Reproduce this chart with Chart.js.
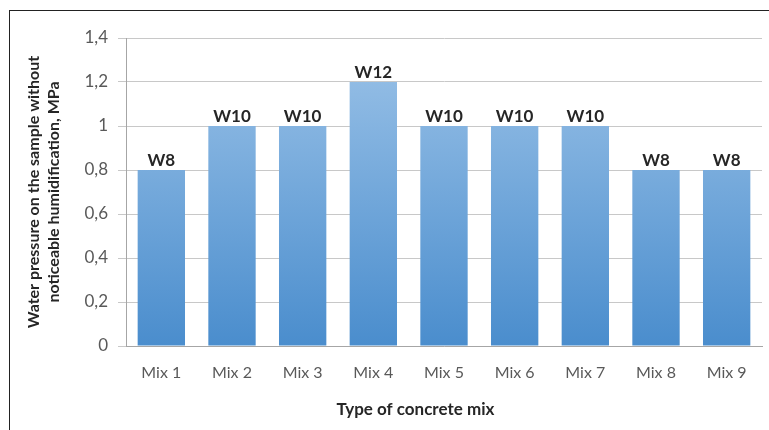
<!DOCTYPE html>
<html>
<head>
<meta charset="utf-8">
<script src="https://cdn.jsdelivr.net/npm/chart.js@4"></script>
<style>
  html, body { margin: 0; padding: 0; background: #fff; }
  #wrap { position: relative; width: 769px; height: 430px; overflow: hidden; }
  #frame { position: absolute; left: 9px; top: 10px; width: 900px; height: 600px;
           border-top: 1px solid #222; border-left: 1px solid #222; }
  canvas { position: absolute; left: 0; top: 0; }
</style>
</head>
<body>
<div id="wrap">
  <div id="frame"></div>
  <canvas id="chart" width="769" height="430"></canvas>
</div>
<script>
const mixes = ['Mix 1', 'Mix 2', 'Mix 3', 'Mix 4', 'Mix 5', 'Mix 6', 'Mix 7', 'Mix 8', 'Mix 9'];
const pressure = [0.8, 1, 1, 1.2, 1, 1, 1, 0.8, 0.8];
const waterClass = ['W8', 'W10', 'W10', 'W12', 'W10', 'W10', 'W10', 'W8', 'W8'];
const yTickLabels = ['0', '0,2', '0,4', '0,6', '0,8', '1', '1,2', '1,4'];

const FONT = 'Lato, "Open Sans", sans-serif';

// labels W8 / W10 / W12 au-dessus des barres
const barLabels = {
  id: 'barLabels',
  afterDatasetsDraw(chart) {
    const ctx = chart.ctx;
    const meta = chart.getDatasetMeta(0);
    ctx.save();
    ctx.font = 'bold 17px ' + FONT;
    ctx.fillStyle = '#262626';
    ctx.textAlign = 'center';
    ctx.textBaseline = 'bottom';
    meta.data.forEach((bar, i) => {
      ctx.fillText(waterClass[i], bar.x, bar.y - 1);
    });
    ctx.restore();
  }
};

// titre de l'axe x (décalé à gauche comme dans l'original)
const xTitle = {
  id: 'xTitle',
  afterDraw(chart) {
    const ctx = chart.ctx;
    const area = chart.chartArea;
    ctx.save();
    ctx.font = 'bold 17px ' + FONT;
    ctx.fillStyle = '#262626';
    ctx.textAlign = 'center';
    ctx.textBaseline = 'middle';
    ctx.fillText('Type of concrete mix', area.left + area.width * 0.455, 410);
    ctx.restore();
  }
};

new Chart(document.getElementById('chart'), {
  type: 'bar',
  data: {
    labels: mixes,
    datasets: [{
      data: pressure,
      backgroundColor(context) {
        const area = context.chart.chartArea;
        if (!area) return '#6aa3da';
        const g = context.chart.ctx.createLinearGradient(0, area.top, 0, area.bottom);
        g.addColorStop(0, '#9cc3e8');
        g.addColorStop(1, '#4a8dcd');
        return g;
      },
      borderWidth: 0,
      categoryPercentage: 1,
      barPercentage: 0.67
    }]
  },
  options: {
    responsive: false,
    animation: false,
    layout: { padding: { left: 0, top: 38, right: 7, bottom: 0 } },
    plugins: {
      legend: { display: false },
      tooltip: { enabled: false }
    },
    scales: {
      x: {
        grid: { display: false, drawTicks: false },
        border: { display: true, color: '#a6a6a6' },
        ticks: {
          color: '#595959',
          font: { family: FONT, size: 16 },
          padding: 17,
          maxRotation: 0
        },
        afterFit(scale) { scale.height = 84; }
      },
      y: {
        min: 0,
        max: 1.4,
        ticks: {
          stepSize: 0.2,
          color: '#595959',
          font: { family: FONT, size: 17 },
          padding: 10,
          callback: (v, i) => yTickLabels[i]
        },
        grid: { color: '#c8c8c8', tickLength: 8 },
        border: { display: true, color: '#a6a6a6' },
        title: {
          display: true,
          text: ['Water pressure on the sample without', 'noticeable humidification, MPa'],
          color: '#262626',
          font: { family: FONT, size: 16, weight: 'bold', lineHeight: 1.3 },
          padding: { top: 23, bottom: 0 }
        },
        afterFit(scale) { scale.width = 126; }
      }
    }
  },
  plugins: [barLabels, xTitle]
});
</script>
</body>
</html>
